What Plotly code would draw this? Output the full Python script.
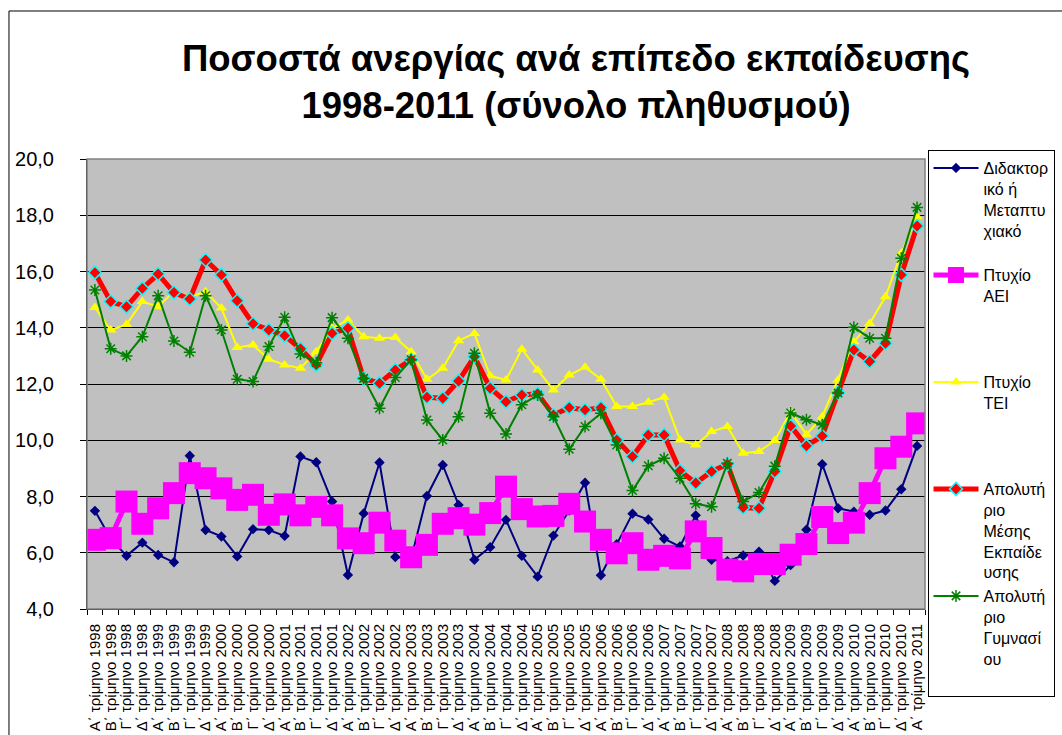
import plotly.graph_objects as go

years = [str(y) for y in range(1998, 2012)]
quarters = ["Α΄", "Β΄", "Γ΄", "Δ΄"]
categories = [f"{q} τρίμηνο {y}" for y in years for q in quarters][:53]

series_names = [
    "Διδακτορ<br>ικό ή<br>Μεταπτυ<br>χιακό<br> ",
    "Πτυχίο<br>ΑΕΙ<br> <br> <br> ",
    "Πτυχίο<br>ΤΕΙ<br> <br> <br> ",
    "Απολυτή<br>ριο<br>Μέσης<br>Εκπαίδε<br>υσης",
    "Απολυτή<br>ριο<br>Γυμνασί<br>ου<br> ",
]

doctorate = [7.49, 6.5, 5.89, 6.36, 5.92, 5.66, 9.45, 6.81, 6.58, 5.87, 6.84, 6.81, 6.6, 9.42, 9.22, 7.82, 5.21, 7.4,
             9.21, 5.85, 5.8, 8.02, 9.12, 7.7, 5.75, 6.2, 7.17, 5.89, 5.15, 6.61, 7.5, 8.49, 5.2, 6.3, 7.39,
             7.18, 6.5, 6.22, 7.33, 5.75, 5.7, 5.9, 6.04, 5.0, 5.56, 6.82, 9.15, 7.58, 7.46, 7.35, 7.5, 8.26, 9.8]
aei = [6.46, 6.52, 7.82, 7.03, 7.58, 8.12, 8.83, 8.65, 8.29, 7.88, 8.06, 7.35, 7.72, 7.33, 7.63, 7.33, 6.51, 6.34,
       7.07, 6.43, 5.84, 6.28, 7.03, 7.23, 7.0, 7.41, 8.35, 7.55, 7.29, 7.31, 7.74, 7.11, 6.46, 5.98, 6.34,
       5.75, 5.89, 5.8, 6.76, 6.17, 5.4, 5.34, 5.6, 5.6, 5.93, 6.31, 7.27, 6.7, 7.07, 8.12, 9.36, 9.77, 10.6]
tei = [14.72, 13.92, 14.12, 14.93, 14.75, 15.3, 15.1, 15.28, 14.7, 13.3, 13.39, 12.88, 12.68, 12.56, 13.15, 13.98, 14.28, 13.68,
       13.63, 13.65, 13.15, 12.17, 12.56, 13.54, 13.8, 12.29, 12.14, 13.24, 12.5, 11.79, 12.32, 12.6, 12.17, 11.2, 11.2,
       11.35, 11.53, 10.01, 9.83, 10.31, 10.49, 9.54, 9.6, 9.99, 11.02, 10.2, 10.84, 12.14, 13.5, 14.15, 15.1, 16.65, 17.95]
lyceum = [15.96, 14.93, 14.75, 15.4, 15.91, 15.25, 15.02, 16.41, 15.88, 14.96, 14.14, 13.92, 13.72, 13.25, 12.68, 13.8, 13.98, 12.2,
          12.03, 12.5, 12.86, 11.53, 11.49, 12.11, 12.97, 11.85, 11.37, 11.61, 11.65, 10.9, 11.16, 11.08, 11.16, 10.01, 9.42,
          10.19, 10.19, 8.92, 8.48, 8.89, 9.15, 7.61, 7.58, 8.89, 10.51, 9.8, 10.15, 11.69, 13.21, 12.8, 13.45, 15.88, 17.62]
gymnasium = [15.34, 13.25, 13.0, 13.68, 15.14, 13.53, 13.13, 15.14, 13.92, 12.17, 12.09, 13.33, 14.37, 13.07, 12.76, 14.36, 13.63, 12.2,
             11.14, 12.23, 12.86, 10.72, 10.01, 10.84, 13.09, 10.96, 10.22, 11.26, 11.61, 10.84, 9.68, 10.49, 10.96, 9.83, 8.21,
             9.09, 9.36, 8.65, 7.74, 7.64, 9.18, 7.82, 8.14, 9.08, 10.97, 10.73, 10.55, 11.68, 14.02, 13.63, 13.63, 16.47, 18.28]

FONT = "Liberation Sans, Arial, sans-serif"

fig = go.Figure()
fig.add_trace(go.Scatter(x=categories, y=doctorate, name=series_names[0], mode="lines+markers",
                         line=dict(color="#000080", width=2),
                         marker=dict(symbol="diamond", size=8, color="#000080")))
fig.add_trace(go.Scatter(x=categories, y=aei, name=series_names[1], mode="lines+markers",
                         line=dict(color="#FF00FF", width=5),
                         marker=dict(symbol="square", size=22, color="#FF00FF")))
fig.add_trace(go.Scatter(x=categories, y=tei, name=series_names[2], mode="lines+markers",
                         line=dict(color="#FFFF00", width=2),
                         marker=dict(symbol="triangle-up", size=10, color="#FFFF00")))
fig.add_trace(go.Scatter(x=categories, y=lyceum, name=series_names[3], mode="lines+markers",
                         line=dict(color="#FF0000", width=5),
                         marker=dict(symbol="diamond", size=10, color="#FF0000",
                                     line=dict(color="#00FFFF", width=1.5))))
fig.add_trace(go.Scatter(x=categories, y=gymnasium, name=series_names[4], mode="lines+markers",
                         line=dict(color="#008000", width=2),
                         marker=dict(symbol="asterisk-open", size=10, color="#008000",
                                     line=dict(color="#008000", width=1.5))))

fig.update_layout(
    width=1062, height=735,
    margin=dict(l=87, r=137, t=159, b=126, autoexpand=False),
    paper_bgcolor="white",
    plot_bgcolor="#C0C0C0",
    separators=", ",
    font=dict(family=FONT, color="black"),
    title=dict(
        text="Ποσοστά ανεργίας ανά επίπεδο εκπαίδευσης<br>1998-2011 (σύνολο πληθυσμού)",
        font=dict(family=FONT, size=36.5, color="black", weight="bold"),
        x=0.5424, xref="container", xanchor="center",
        y=0.904, yref="container", yanchor="top",
    ),
    xaxis=dict(
        type="category", range=[-0.5, 52.5], tickmode="array",
        tickvals=categories, ticktext=categories,
        tickangle=-90, tickfont=dict(size=15, family=FONT),
        showgrid=False, showline=True, linecolor="black", linewidth=1,
        ticks="outside", ticklen=5, tickcolor="black", tickson="boundaries",
        ticklabelstandoff=8, automargin=False,
    ),
    yaxis=dict(
        range=[4, 20], dtick=2, tickformat=".1f", tickfont=dict(size=20, family=FONT),
        showgrid=True, gridcolor="black", gridwidth=1,
        showline=True, linecolor="black", linewidth=1,
        ticks="outside", ticklen=6, tickcolor="black",
        ticklabelstandoff=22, zeroline=False, automargin=False,
    ),
    legend=dict(
        x=1.003, y=1.02, xanchor="left", yanchor="top",
        bgcolor="white", bordercolor="black", borderwidth=1,
        font=dict(size=16, family=FONT, color="black"),
        valign="top", itemwidth=45, tracegroupgap=0,
        itemclick=False, maxheight=700,
    ),
    showlegend=True,
    shapes=[
        dict(type="rect", xref="paper", yref="paper", x0=0, x1=1, y0=0, y1=1,
             line=dict(color="#808080", width=1.5), layer="above"),
        dict(type="rect", xref="paper", yref="paper", x0=-0.0931, x1=1.2, y0=-0.35, y1=1.3289,
             line=dict(color="black", width=1), layer="below"),
    ],
)

fig.write_html("out.html", config={"displayModeBar": False},
               post_script="document.body.style.margin='0';")
